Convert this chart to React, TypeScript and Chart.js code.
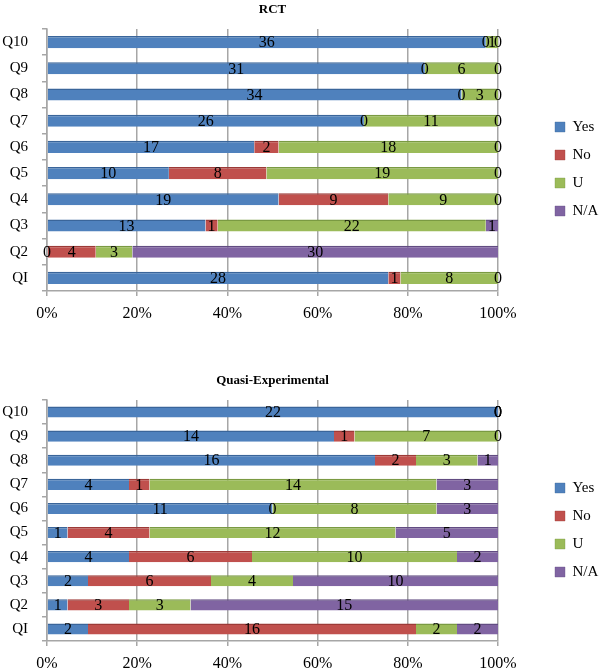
import React, { useEffect, useRef } from 'react';
import { Chart, registerables } from 'chart.js';

Chart.register(...registerables);

// ---- data ----
const questions = ['QI', 'Q2', 'Q3', 'Q4', 'Q5', 'Q6', 'Q7', 'Q8', 'Q9', 'Q10'];
const seriesNames = ['Yes', 'No', 'U', 'N/A'];
const xTickLabels = ['0%', '20%', '40%', '60%', '80%', '100%'];

const rctYes = [28, 0, 13, 19, 10, 17, 26, 34, 31, 36];
const rctNo = [1, 4, 1, 9, 8, 2, 0, 0, 0, 0];
const rctU = [8, 3, 22, 9, 19, 18, 11, 3, 6, 1];
const rctNA = [0, 30, 1, 0, 0, 0, 0, 0, 0, 0];

const quasiYes = [2, 1, 2, 4, 1, 11, 4, 16, 14, 22];
const quasiNo = [16, 3, 6, 6, 4, 0, 1, 2, 1, 0];
const quasiU = [2, 3, 4, 10, 12, 8, 14, 3, 7, 0];
const quasiNA = [2, 15, 10, 2, 5, 3, 3, 1, 0, 0];

// ---- styles ----
const seriesColors = ['#4F81BD', '#C0504D', '#9BBB59', '#8064A2'];
const seriesEdges = ['#3A659A', '#9C3A37', '#7A9A42', '#624C82'];
const FONT = "'Liberation Serif', 'DejaVu Serif', serif";
const GRID = '#a6a6a6';

const valueLabels = {
  id: 'valueLabels',
  afterDatasetsDraw(chart: any) {
    const ctx = chart.ctx;
    ctx.save();
    ctx.font = `16px ${FONT}`;
    ctx.fillStyle = '#000';
    ctx.textAlign = 'center';
    ctx.textBaseline = 'middle';
    chart.data.datasets.forEach((ds: any, di: number) => {
      const meta = chart.getDatasetMeta(di);
      meta.data.forEach((el: any, i: number) => {
        const cx = (el.x + el.base) / 2;
        ctx.fillText(String(ds.counts[i]), cx, el.y + 1);
      });
    });
    ctx.restore();
  },
};

const legendPlacer = {
  id: 'legendPlacer',
  afterLayout(chart: any, _args: any, opts: any) {
    const lg = chart.legend;
    if (!lg) return;
    const pad = 13;
    lg.left = opts.x - pad;
    lg.right = lg.left + 60;
    lg.top = opts.firstCenter - pad - 7.5;
    lg.bottom = lg.top + pad + 4 * 28;
  },
};

function buildConfig(
  title: string,
  counts: number[][],
  titlePad: { top: number; bottom: number },
  bottomPad: number,
  legendFirst: number
): any {
  const totals = questions.map((_, i) => counts.reduce((s, arr) => s + arr[i], 0));
  return {
    type: 'bar',
    data: {
      labels: questions,
      datasets: seriesNames.map((name, s) => ({
        label: name,
        data: counts[s].map((v, i) => (v / totals[i]) * 100),
        counts: counts[s],
        backgroundColor: seriesColors[s],
        borderColor: seriesEdges[s],
        borderWidth: { top: 1.5, bottom: 0, left: 0, right: 0 },
        borderSkipped: false,
        barPercentage: 0.92,
        categoryPercentage: 0.5,
      })),
    },
    options: {
      indexAxis: 'y',
      animation: false,
      responsive: false,
      maintainAspectRatio: false,
      layout: { padding: { left: 2, right: 100, top: 0, bottom: bottomPad } },
      scales: {
        x: {
          stacked: true,
          min: 0,
          max: 100,
          afterFit: (scale: any) => {
            scale.height = 29;
          },
          ticks: {
            stepSize: 20,
            color: '#000',
            font: { family: FONT, size: 16, lineHeight: 1 },
            padding: 10,
            callback: (v: number) => xTickLabels[Math.round(v / 20)],
          },
          grid: { color: GRID, lineWidth: 1.5, tickLength: 5 },
          border: { color: GRID, width: 1.5 },
        },
        y: {
          stacked: true,
          reverse: true,
          afterFit: (scale: any) => {
            scale.width = 45;
          },
          ticks: { color: '#000', font: { family: FONT, size: 15 }, padding: 14 },
          grid: { drawOnChartArea: false, color: GRID, tickLength: 5, lineWidth: 1.5 },
          border: { color: GRID, width: 1.5 },
        },
      },
      plugins: {
        title: {
          display: true,
          text: title,
          fullSize: false,
          color: '#000',
          font: { family: FONT, size: 13, weight: 'bold' },
          padding: titlePad,
        },
        legend: {
          position: 'right',
          maxWidth: 1,
          labels: {
            boxWidth: 10,
            boxHeight: 10,
            padding: 13,
            color: '#000',
            font: { family: FONT, size: 15 },
          },
        },
        legendPlacer: { x: 555, firstCenter: legendFirst },
        tooltip: { enabled: false },
      },
    },
    plugins: [valueLabels, legendPlacer],
  };
}

function ChartCanvas({ config, top }: { config: () => any; top: number }) {
  const ref = useRef<HTMLCanvasElement | null>(null);
  useEffect(() => {
    if (!ref.current) return;
    const chart = new Chart(ref.current, config());
    return () => chart.destroy();
  }, []);
  return (
    <div style={{ position: 'absolute', left: 0, top, width: 599, height: 335 }}>
      <canvas ref={ref} width={599} height={335} style={{ width: 599, height: 335, display: 'block' }} />
    </div>
  );
}

export default function App() {
  return (
    <div style={{ position: 'absolute', left: 0, top: 0, width: 599, height: 670, background: '#fff' }}>
      <ChartCanvas
        top={0}
        config={() =>
          buildConfig('RCT', [rctYes, rctNo, rctU, rctNA], { top: 1.5, bottom: 11.9 }, 15, 127)
        }
      />
      <ChartCanvas
        top={335}
        config={() =>
          buildConfig(
            'Quasi-Experimental',
            [quasiYes, quasiNo, quasiU, quasiNA],
            { top: 37.7, bottom: 11.7 },
            0,
            153
          )
        }
      />
    </div>
  );
}
